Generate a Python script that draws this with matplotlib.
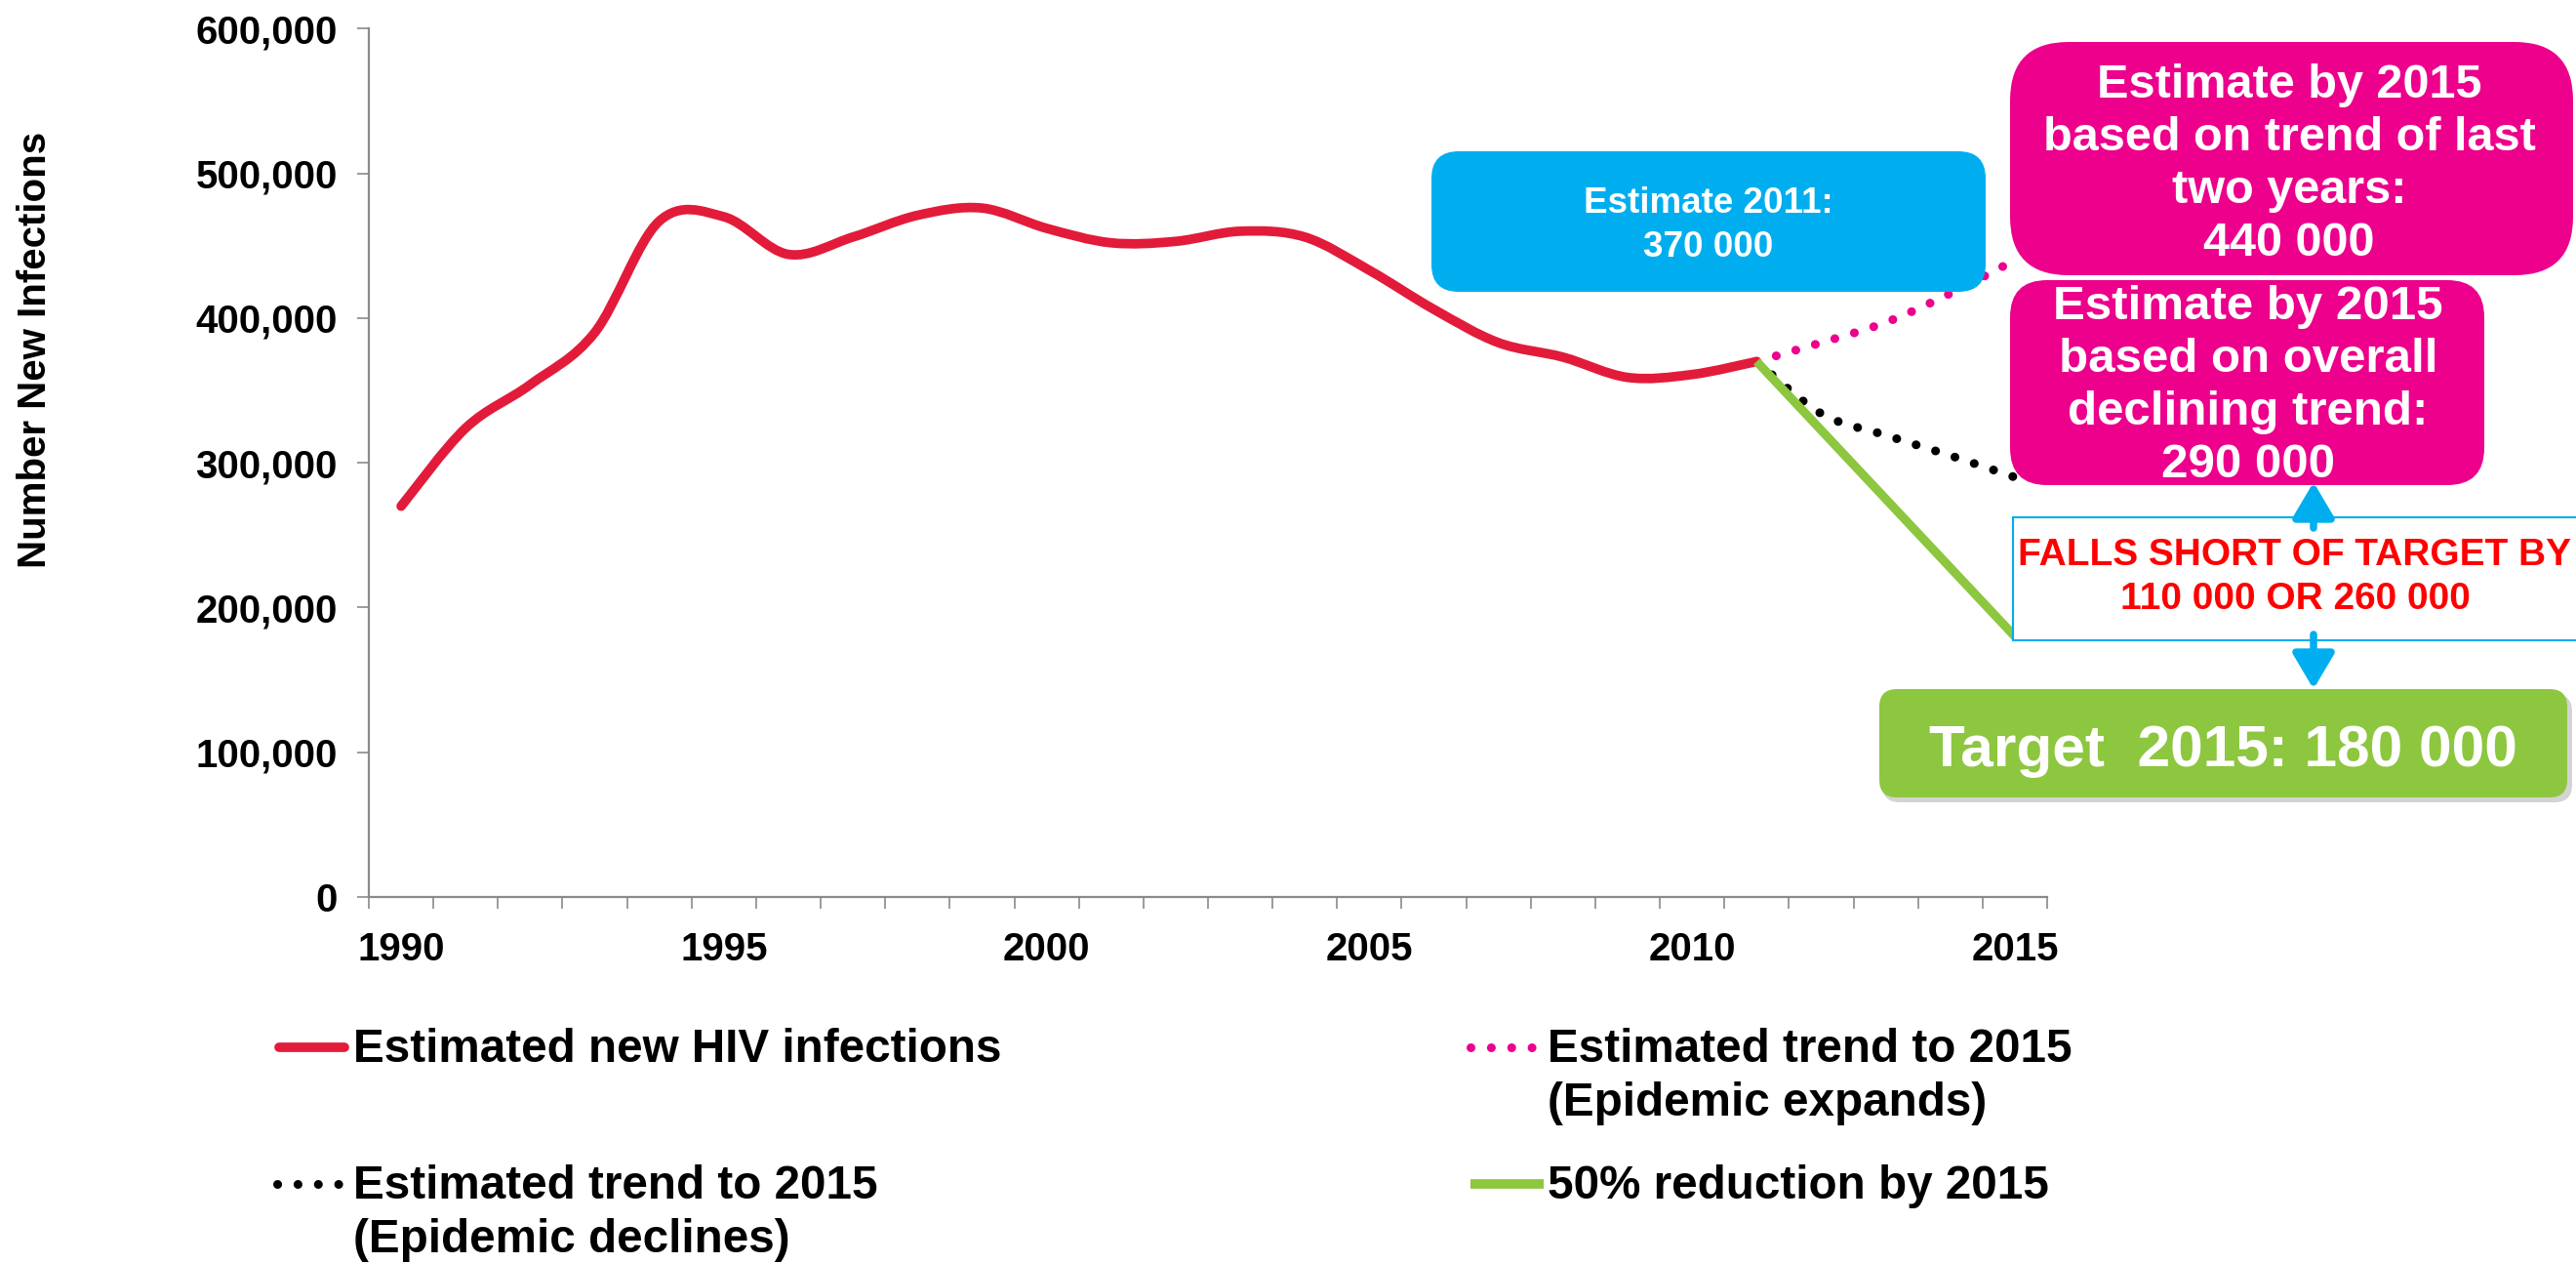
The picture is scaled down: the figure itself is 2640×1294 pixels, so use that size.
import numpy as np
import matplotlib
matplotlib.use("Agg")
import matplotlib.pyplot as plt
from matplotlib.path import Path
from matplotlib.patches import PathPatch, FancyBboxPatch, Rectangle, FancyArrowPatch, ArrowStyle
from matplotlib.lines import Line2D
from matplotlib.ticker import FuncFormatter

plt.rcParams["font.family"] = ["Liberation Sans", "DejaVu Sans"]
plt.rcParams["font.weight"] = "bold"

# ---------------------------------------------------------------------------
# data
# ---------------------------------------------------------------------------
years = [1990, 1991, 1992, 1993, 1994, 1995, 1996, 1997, 1998, 1999, 2000,
         2001, 2002, 2003, 2004, 2005, 2006, 2007, 2008, 2009, 2010, 2011]
new_infections = [270000, 324000, 354000, 390000, 467000, 470000, 444000,
                  456000, 471000, 476000, 462000, 452000, 453000, 460000,
                  456000, 433000, 406000, 383000, 373000, 359000, 361000,
                  370000]

trend_years = [2011, 2012, 2013, 2014, 2015]
trend_expands = [370000, 383000, 397000, 417000, 440000]
trend_declines = [370000, 334000, 319000, 305000, 290000]

target_years = [2011, 2015]
target_values = [370000, 180000]

year_labels = [1990, 1995, 2000, 2005, 2010, 2015]
y_ticks = [0, 100000, 200000, 300000, 400000, 500000, 600000]

legend_labels = ["Estimated new HIV infections",
                 "Estimated trend to 2015\n(Epidemic declines)",
                 "Estimated trend to 2015\n(Epidemic expands)",
                 "50% reduction by 2015"]

RED = "#E31B3A"
PINK = "#EC008C"
GREEN = "#8DC63F"
BLUE = "#00AEEF"
GREY = "#8A8A8A"

W, H = 2640, 1294


def smooth_path(xs, ys):
    # excel-style smoothed line: bezier segments through the points
    xs = np.asarray(xs, float)
    ys = np.asarray(ys, float)
    px = np.concatenate([[xs[0]], xs, [xs[-1]]])
    py = np.concatenate([[ys[0]], ys, [ys[-1]]])
    verts = [(xs[0], ys[0])]
    codes = [Path.MOVETO]
    for i in range(1, len(px) - 2):
        c1 = (px[i] + (px[i + 1] - px[i - 1]) / 6, py[i] + (py[i + 1] - py[i - 1]) / 6)
        c2 = (px[i + 1] - (px[i + 2] - px[i]) / 6, py[i + 1] - (py[i + 2] - py[i]) / 6)
        verts += [c1, c2, (px[i + 1], py[i + 1])]
        codes += [Path.CURVE4] * 3
    return Path(verts, codes)


fig = plt.figure(figsize=(W / 100, H / 100), dpi=100)
ax = fig.add_axes([378 / W, 1 - 919 / H, (2098 - 378) / W, (919 - 29.3) / H])

ax.set_xlim(1989.5, 2015.5)
ax.set_ylim(0, 600000)

dots = (0, (0.01, 2.3))
ax.add_patch(PathPatch(smooth_path(years, new_infections), fc="none", ec=RED,
                       lw=7, capstyle="round", joinstyle="round", zorder=3))
ax.add_patch(PathPatch(smooth_path(trend_years, trend_expands), fc="none", ec=PINK,
                       lw=6.5, ls=dots, capstyle="round", zorder=2))
ax.add_patch(PathPatch(smooth_path(trend_years, trend_declines), fc="none", ec="black",
                       lw=6.5, ls=dots, capstyle="round", zorder=2))
ax.plot(target_years, target_values, color=GREEN, lw=6.5, solid_capstyle="butt", zorder=4)

# axes styling
for s in ["top", "right"]:
    ax.spines[s].set_visible(False)
for s in ["left", "bottom"]:
    ax.spines[s].set_color(GREY)
    ax.spines[s].set_linewidth(1.6)

ax.set_xticks(np.arange(1989.5, 2016, 1))
ax.set_xticklabels([])
ax.set_xticks(year_labels, minor=True)
ax.set_xticklabels([str(y) for y in year_labels], minor=True)
ax.tick_params(axis="x", which="major", length=8.6, width=1.2, color=GREY)
ax.tick_params(axis="x", which="minor", length=0, pad=25, labelsize=29)
ax.set_yticks(y_ticks)
ax.yaxis.set_major_formatter(FuncFormatter(lambda v, p: f"{int(v):,}"))
ax.tick_params(axis="y", length=8.6, width=1.2, color=GREY, pad=14.5, labelsize=29)
for lab in ax.get_xticklabels(minor=True) + ax.get_yticklabels():
    lab.set_fontweight("bold")

# ---------------------------------------------------------------------------
# overlay in pixel coordinates for boxes, arrows and legend
# ---------------------------------------------------------------------------
ov = fig.add_axes([0, 0, 1, 1], zorder=5)
ov.set_xlim(0, W)
ov.set_ylim(H, 0)
ov.axis("off")


def rbox(x0, y0, x1, y1, r, color, z=5):
    ov.add_patch(FancyBboxPatch((x0, y0), x1 - x0, y1 - y0,
                                boxstyle=f"round,pad=0,rounding_size={r}",
                                fc=color, ec="none", zorder=z))


def lines(x, baselines, texts, size, color, ha="center"):
    for b, t in zip(baselines, texts):
        ov.text(x, b, t, ha=ha, va="baseline", fontsize=size, color=color,
                fontweight="bold", zorder=10)


ov.text(36, 358, "Number New Infections", rotation=90, ha="center", va="center",
        fontsize=29, fontweight="bold")

# estimate 2011
rbox(1467, 155, 2035, 299, 28, BLUE)
lines(1751, [218, 263], ["Estimate 2011:", "370 000"], 26.5, "white")

# estimate boxes 2015
rbox(2060, 43, 2637, 282, 60, PINK)
lines(2346, [100, 154, 208, 262],
      ["Estimate by 2015", "based on trend of last", "two years:", "440 000"], 35, "white")
rbox(2060, 287, 2546, 497, 38, PINK)
lines(2304, [327, 381, 435, 489],
      ["Estimate by 2015", "based on overall", "declining trend:", "290 000"], 35.5, "white")

# falls short box
ov.add_patch(Rectangle((2063, 530), 600, 126, fc="white", ec=BLUE, lw=1.5, zorder=5))
lines(2352, [579, 624], ["FALLS SHORT OF TARGET BY", "110 000 OR 260 000"], 28, "#FF0000")

arrow = ArrowStyle("-|>", head_length=2.2, head_width=1.3)
ov.add_patch(FancyArrowPatch((2371, 541), (2371, 494), arrowstyle=arrow, mutation_scale=10,
                             color=BLUE, lw=5.4, shrinkA=0, shrinkB=0, zorder=6))
ov.add_patch(FancyArrowPatch((2371, 650), (2371, 706), arrowstyle=arrow, mutation_scale=10,
                             color=BLUE, lw=5.4, shrinkA=0, shrinkB=0, zorder=6))

# target box with a soft shadow
rbox(1929, 711, 2636, 822, 18, "#D3D3D3", z=4)
rbox(1926, 706, 2631, 817, 18, GREEN)
lines(2278, [785], ["Target  2015: 180 000"], 43.5, "white")

# legend
ov.add_line(Line2D([286, 353], [1073, 1073], color=RED, lw=7, solid_capstyle="round"))
ov.add_line(Line2D([284, 350], [1213, 1213], color="black", lw=6.5, ls=dots,
                   dash_capstyle="round"))
ov.add_line(Line2D([1507, 1574], [1073, 1073], color=PINK, lw=6.5, ls=dots,
                   dash_capstyle="round"))
ov.add_line(Line2D([1507, 1582], [1213, 1213], color=GREEN, lw=7, solid_capstyle="butt"))
lines(362, [1088], legend_labels[0].split("\n"), 34.3, "black", ha="left")
lines(362, [1228, 1283], legend_labels[1].split("\n"), 34.3, "black", ha="left")
lines(1586, [1088, 1143], legend_labels[2].split("\n"), 34.3, "black", ha="left")
lines(1586, [1228], legend_labels[3].split("\n"), 34.3, "black", ha="left")

fig.savefig("out.png", dpi=100)
